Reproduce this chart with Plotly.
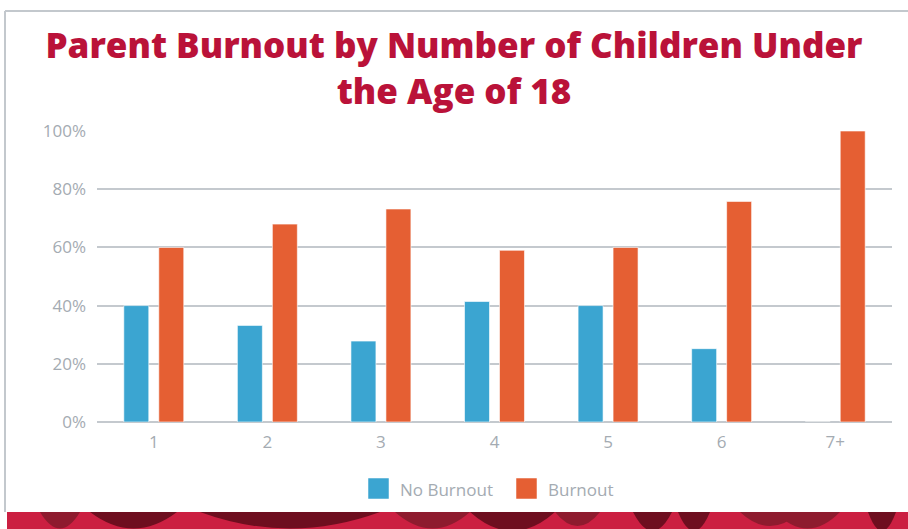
import plotly.graph_objects as go

categories = ["1", "2", "3", "4", "5", "6", "7+"]
no_burnout = [40.0, 33.2, 27.8, 41.4, 40.0, 25.2, 0.0]
burnout = [60.0, 68.0, 73.2, 59.0, 60.0, 75.8, 100.0]
y_ticks = [0, 20, 40, 60, 80, 100]
y_tick_labels = ["0%", "20%", "40%", "60%", "80%", "100%"]
series_names = ["No Burnout", "Burnout"]
colors = ["#3BA5D1", "#E55F33"]

W, H = 908, 529
ML, MR, MT, MB = 97, 16, 131, 107
GRAY = "#A4ABB2"
GRID = "#C4C9CE"
FONT = "Open Sans"

fig = go.Figure()
for name, vals, col in zip(series_names, [no_burnout, burnout], colors):
    fig.add_trace(go.Bar(
        x=categories, y=vals, name=name,
        marker=dict(color=col, line=dict(color="rgba(255,255,255,0.6)", width=1)),
        showlegend=False, hoverinfo="x+y+name",
    ))

shapes = []
annotations = []
pw = W - ML - MR
ph = H - MT - MB


def px(x):
    return (x - ML) / pw


def py(y):
    return (H - MB - y) / ph


# frame
shapes.append(dict(type="line", xref="paper", yref="paper",
                   x0=px(5), x1=px(W), y0=py(11), y1=py(11),
                   line=dict(color="#C3C8CD", width=2)))
shapes.append(dict(type="line", xref="paper", yref="paper",
                   x0=px(5), x1=px(5), y0=py(11), y1=py(512),
                   line=dict(color="#C3C8CD", width=2)))

# bottom decorative band
TOP = 512
shapes.append(dict(type="rect", xref="paper", yref="paper",
                   x0=px(7), x1=px(W + 2), y0=py(TOP), y1=py(H + 2),
                   fillcolor="#CB1F41", line=dict(width=0), layer="above"))
blobs = [(40, 80, 545, "#8E1B2E"), (90, 177, 545, "#6E0E1F"),
         (200, 380, 545, "#6E0E1F"), (395, 470, 545, "#8E1B2E"),
         (470, 555, 550, "#6E0E1F"), (555, 600, 540, "#8E1B2E"),
         (633, 672, 550, "#6E0E1F"), (678, 710, 550, "#6E0E1F"),
         (740, 800, 540, "#8E1B2E"), (775, 840, 545, "#8E1B2E"),
         (868, 896, 550, "#6E0E1F")]
for a, b, d, c in blobs:
    m = (a + b) / 2
    path = f"M {px(a)},{py(TOP)} Q {px(m)},{py(d)} {px(b)},{py(TOP)} Z"
    shapes.append(dict(type="path", xref="paper", yref="paper", path=path,
                       fillcolor=c, line=dict(width=0), layer="above"))

# manual legend
leg = [(368, "No Burnout", colors[0]), (516, "Burnout", colors[1])]
for x0, name, col in leg:
    shapes.append(dict(type="rect", xref="paper", yref="paper",
                       x0=px(x0), x1=px(x0 + 21), y0=py(499), y1=py(478),
                       fillcolor=col, line=dict(color="rgba(255,255,255,0.5)", width=1)))
    annotations.append(dict(xref="paper", yref="paper", x=px(x0 + 30), y=py(489),
                            text=name, showarrow=False, xanchor="left", yanchor="middle",
                            font=dict(family=FONT, size=17, color=GRAY)))

fig.update_layout(
    width=W, height=H,
    margin=dict(l=ML, r=MR, t=MT, b=MB),
    paper_bgcolor="white", plot_bgcolor="white",
    barmode="group", bargap=0.384, bargroupgap=0.286,
    title=dict(text="Parent Burnout by Number of Children Under<br>the Age of 18",
               x=0.5, xref="container", xanchor="center",
               y=1 - 58 / H, yref="container", yanchor="middle",
               font=dict(family=FONT, size=35, color="#BA1239", weight=800)),
    xaxis=dict(tickfont=dict(family=FONT, size=17, color=GRAY),
               showgrid=False, showline=False, zeroline=False,
               ticks="", ticklabelstandoff=8),
    yaxis=dict(range=[0, 100], tickvals=y_ticks, ticktext=y_tick_labels,
               tickfont=dict(family=FONT, size=17, color=GRAY),
               showgrid=True, gridcolor=GRID, gridwidth=2,
               zeroline=True, zerolinecolor=GRID, zerolinewidth=2,
               showline=False, ticks="", ticklabelstandoff=10),
    shapes=shapes, annotations=annotations,
    showlegend=False,
)
fig.write_html("out.html")
